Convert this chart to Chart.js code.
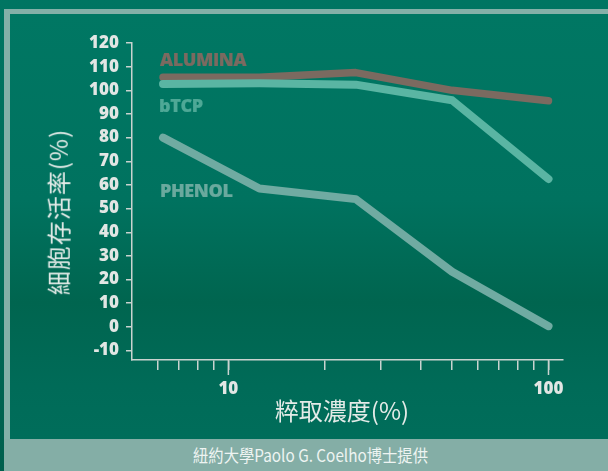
<!DOCTYPE html>
<html>
<head>
<meta charset="utf-8">
<script src="https://cdn.jsdelivr.net/npm/chart.js@4.4.0/dist/chart.umd.min.js"></script>
<style>
  html, body { margin:0; padding:0; }
  body { width:608px; height:471px; overflow:hidden; position:relative;
         background: linear-gradient(to bottom, #007562 0%, #006a57 60%, #005f4d 100%); }
  #frame { position:absolute; left:4px; top:9px; width:620px; height:470px; box-sizing:border-box;
           border-left:6px solid #84b0a8; border-top:5px solid #84b0a8;
           background: linear-gradient(to bottom, #007763 0%, #00725f 40%, #00654f 62%, #006b58 80%, #006f5c 100%); }
  #caption { position:absolute; left:4px; top:439px; width:610px; height:32px; background:#84aea6;
             color:#eef4f2; font-family:"Liberation Sans Narrow","Noto Sans CJK TC",sans-serif; font-size:17px;
             line-height:32px; text-align:center; }
  #caption span { display:inline-block; margin-left:4px; transform:scaleX(0.9); }
  canvas { position:absolute; left:0; top:0; }
  .lbl { position:absolute; font-family:"Open Sans",sans-serif; font-weight:800; font-size:18px; line-height:1;
         white-space:nowrap; letter-spacing:-0.4px; -webkit-text-stroke:0.2px currentColor; }
  #xtitle { position:absolute; left:342px; top:397px; transform:translateX(-50%); color:#e4ebe8;
            font-family:"Noto Sans CJK TC",sans-serif; font-size:24px; line-height:1.1; white-space:nowrap; }
  #ytitle { position:absolute; left:58px; top:212px; transform:translate(-50%,-50%) rotate(-90deg); color:#e4ebe8;
            font-family:"Noto Sans CJK TC",sans-serif; font-size:24px; line-height:1.1; white-space:nowrap; letter-spacing:1px; }
</style>
</head>
<body>
<div id="frame"></div>
<div id="caption"><span>紐約大學Paolo G. Coelho博士提供</span></div>
<canvas id="c" width="608" height="471"></canvas>
<div class="lbl" style="left:160px;top:50px;color:#7b6a60;">ALUMINA</div>
<div class="lbl" style="left:159px;top:96px;color:#4ea896;">bTCP</div>
<div class="lbl" style="left:160px;top:181px;color:#6aa99e;">PHENOL</div>
<div id="xtitle">粹取濃度(%)</div>
<div id="ytitle">細胞存活率(%)</div>
<script>
const concentrations = [6.25, 12.5, 25, 50, 100];
const alumina = [105.5, 105.5, 107.5, 100, 95.6];
const btcp = [102.7, 103, 102.4, 95.8, 62.5];
const phenol = [80, 58.5, 54, 23.3, 0.3];
const yTickValues = [-10, 0, 10, 20, 30, 40, 50, 60, 70, 80, 90, 100, 110, 120];
const xTickValues = [6, 7, 8, 9, 10, 20, 30, 40, 50, 60, 70, 80, 90, 100];
const xLabelValues = [10, 100];

const toPts = arr => arr.map((v, i) => ({ x: concentrations[i], y: v }));
const axisColor = '#c9d3cf';
const tickFont = { family: 'Open Sans', weight: 800, size: 17 };

const majorTicks = {
  id: 'majorTicks',
  afterDraw(chart) {
    const sx = chart.scales.x, ctx = chart.ctx, b = chart.chartArea.bottom;
    ctx.save();
    ctx.strokeStyle = axisColor; ctx.lineWidth = 1.5;
    xLabelValues.forEach(v => {
      const px = sx.getPixelForValue(v);
      ctx.beginPath(); ctx.moveTo(px, b); ctx.lineTo(px, b + 15); ctx.stroke();
    });
    ctx.restore();
  }
};

const ds = (data, color, w) => ({
  data: toPts(data), borderColor: color, borderWidth: w, pointRadius: 0, pointHoverRadius: 0,
  borderCapStyle: 'round', borderJoinStyle: 'round', tension: 0, fill: false, clip: false
});

new Chart(document.getElementById('c'), {
  type: 'line',
  data: {
    datasets: [
      ds(phenol, '#70aba2', 8),
      ds(btcp, '#5ab5a3', 8),
      ds(alumina, '#7b6a60', 7.5)
    ]
  },
  options: {
    responsive: false, animation: false,
    layout: { padding: { left: 0, top: 43, right: 45, bottom: 0 } },
    plugins: { legend: { display: false }, tooltip: { enabled: false } },
    scales: {
      x: {
        type: 'logarithmic', min: 5, max: 111,
        afterBuildTicks: s => { s.ticks = xTickValues.map(v => ({ value: v, major: xLabelValues.includes(v) })); },
        afterFit: s => { s.height = 111; },
        ticks: { autoSkip: false, maxRotation: 0, color: '#e2e6e4', font: tickFont, padding: 9,
                 callback: v => xLabelValues.includes(v) ? String(v) : '' },
        grid: { drawOnChartArea: false, drawTicks: true, tickLength: 10, color: axisColor, lineWidth: 1.5 },
        border: { display: true, color: axisColor, width: 1.5 }
      },
      y: {
        type: 'linear', min: -14, max: 120,
        afterBuildTicks: s => { s.ticks = yTickValues.map(v => ({ value: v })); },
        afterFit: s => { s.width = 132; },
        ticks: { color: '#e2e6e4', font: tickFont, padding: 7 },
        grid: { drawOnChartArea: false, drawTicks: true, tickLength: 6, color: axisColor, lineWidth: 1.5 },
        border: { display: true, color: axisColor, width: 1.5 }
      }
    }
  },
  plugins: [majorTicks]
});
</script>
</body>
</html>
